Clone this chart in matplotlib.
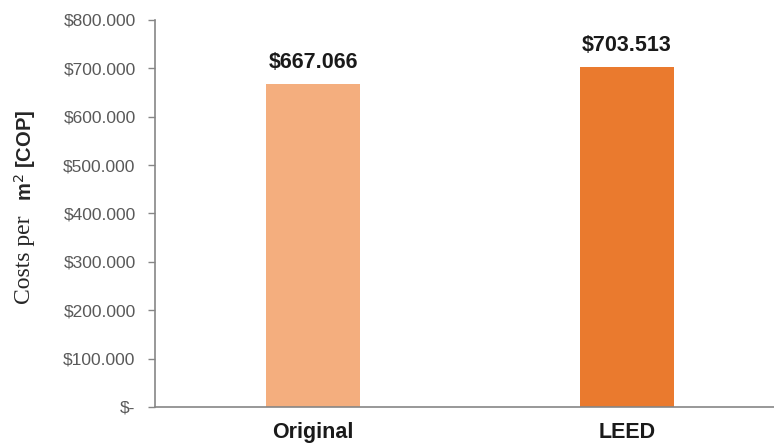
import matplotlib.pyplot as plt

categories = ["Original", "LEED"]
costs = [667066, 703513]
bar_colors = ["#F4AE7E", "#EA7A2E"]
y_ticks = [0, 100000, 200000, 300000, 400000, 500000, 600000, 700000, 800000]


def cop(v):
    # dot as thousands separator, zero shown as "$-"
    if v == 0:
        return "$-"
    return "$" + f"{v:,}".replace(",", ".")


fig = plt.figure(figsize=(7.74, 4.45), dpi=100)
ax = fig.add_axes([0.2003, 0.0854, 0.7997, 0.8697])

x = list(range(len(categories)))
bars = ax.bar(x, costs, width=0.30, color=bar_colors)

for b, v in zip(bars, costs):
    ax.annotate(cop(v), (b.get_x() + b.get_width() / 2, v), xytext=(0, 8),
                textcoords="offset points", ha="center", va="bottom",
                fontsize=15.5, fontweight="bold", color="#1a1a1a",
                family="Liberation Sans")

ax.set_xlim(-0.503, 1.468)
ax.set_ylim(0, 800000)
ax.set_yticks(y_ticks)
ax.set_yticklabels([cop(v) for v in y_ticks], fontsize=12.5, color="#595959",
                   family="Liberation Sans")
ax.set_xticks(x)
ax.set_xticklabels(categories, fontsize=15.5, fontweight="bold", color="#1a1a1a",
                   family="Liberation Sans")
ax.tick_params(axis="x", length=0, pad=11)
ax.tick_params(axis="y", length=5, width=1, color="#868686", pad=9)

for s in ["top", "right"]:
    ax.spines[s].set_visible(False)
for s in ["left", "bottom"]:
    ax.spines[s].set_color("#868686")
    ax.spines[s].set_linewidth(1.2)

# y label: serif part and bold sans part
fig.text(25 / 774, 1 - 215 / 445, "Costs per", rotation=90, ha="center", va="top",
         fontsize=17, family="Liberation Serif", color="#262626")
fig.text(25 / 774, 1 - 201 / 445, "m$^2$ [COP]", rotation=90, ha="center", va="bottom",
         fontsize=14.5, fontweight="bold", family="Liberation Sans", color="#262626")

fig.savefig("out.png", dpi=100)
